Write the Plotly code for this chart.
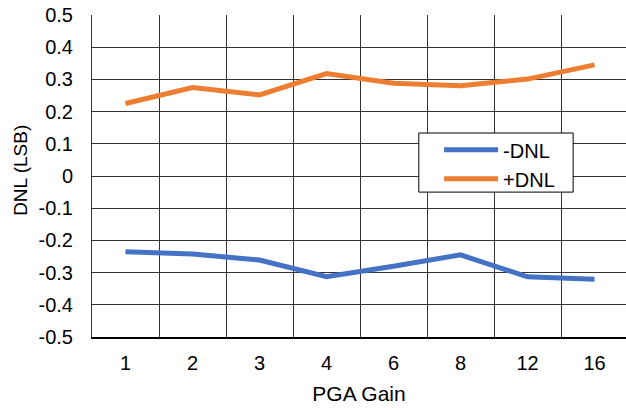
import plotly.graph_objects as go

gains = ["1", "2", "3", "4", "6", "8", "12", "16"]
neg_dnl = [-0.235, -0.242, -0.261, -0.313, -0.280, -0.245, -0.313, -0.321]
pos_dnl = [0.225, 0.275, 0.252, 0.318, 0.288, 0.280, 0.301, 0.345]
y_ticks = [0.5, 0.4, 0.3, 0.2, 0.1, 0, -0.1, -0.2, -0.3, -0.4, -0.5]

fig = go.Figure()
fig.add_trace(go.Scatter(x=gains, y=neg_dnl, mode="lines", name="-DNL",
                         legendgroup="a",
                         line=dict(color="#4472C4", width=5)))
fig.add_trace(go.Scatter(x=gains, y=pos_dnl, mode="lines", name="+DNL",
                         legendgroup="b",
                         line=dict(color="#ED7D31", width=5)))

# legend frame
fig.add_shape(type="rect", xref="paper", yref="paper",
              x0=0.612, x1=0.901, y0=0.450, y1=0.6335,
              line=dict(color="#000", width=1), fillcolor="white", layer="above")

# y-axis title
fig.add_annotation(text="DNL (LSB)", xref="paper", yref="paper",
                   x=-0.133, y=0.519, xanchor="center", yanchor="middle",
                   textangle=-90, showarrow=False, font=dict(size=19))

fig.update_layout(
    width=626, height=410,
    margin=dict(l=92, r=0, t=15, b=73),
    paper_bgcolor="white", plot_bgcolor="white",
    font=dict(family="Liberation Sans, Arial, sans-serif", size=20, color="#000"),
    showlegend=True,
    legend=dict(x=0.650, y=0.642, xanchor="left", yanchor="top",
                borderwidth=0, bgcolor="rgba(0,0,0,0)",
                font=dict(size=20), itemwidth=54, tracegroupgap=0),
    xaxis=dict(type="category", range=[-0.5, 7.47], tickson="boundaries",
               showgrid=True, gridcolor="#333333", gridwidth=1,
               showline=True, linecolor="#000", linewidth=1.5,
               ticks="", ticklabelstandoff=7, automargin=False,
               tickfont=dict(size=20),
               title=dict(text="PGA Gain", standoff=14, font=dict(size=21))),
    yaxis=dict(range=[-0.5, 0.5], tickvals=y_ticks,
               ticktext=[("%g" % v) for v in y_ticks],
               showgrid=True, gridcolor="#333333", gridwidth=1,
               zeroline=False, showline=True, linecolor="#333333", linewidth=1,
               ticks="", ticklabelstandoff=14, automargin=False,
               tickfont=dict(size=20)),
)

fig.write_html("out.html", config={"displayModeBar": False},
               post_script="document.body.style.margin='0';document.body.style.overflow='hidden';")
